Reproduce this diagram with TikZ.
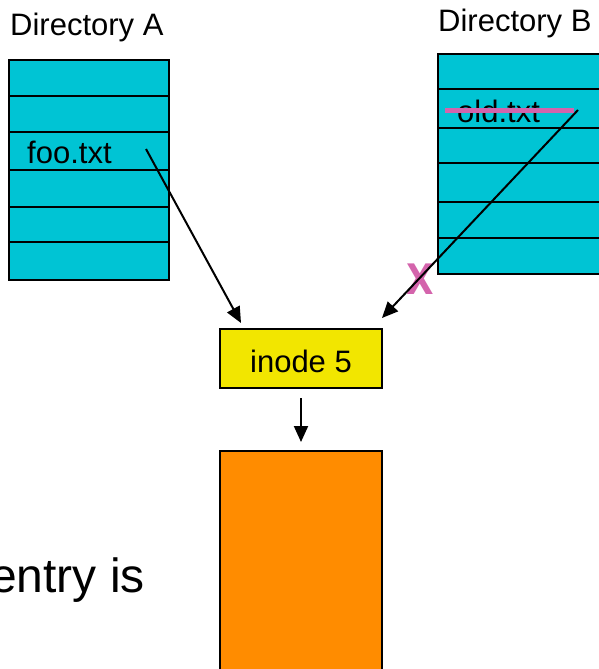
\documentclass[tikz,border=0pt]{standalone}
\usepackage{fontspec}
\setmainfont{Liberation Sans}
\newfontfamily\markfont{DejaVu Sans}[UprightFont={* Bold}]
\usetikzlibrary{arrows.meta}
\definecolor{dircyan}{RGB}{0,196,212}
\definecolor{inodeyellow}{RGB}{242,230,0}
\definecolor{blockorange}{RGB}{255,140,0}
\definecolor{strikepink}{RGB}{212,100,172}
\tikzset{
  dirbox/.style={draw=black, line width=2.4pt, fill=dircyan},
  rowline/.style={draw=black, line width=2.4pt},
  lbl/.style={inner sep=0pt, font=\fontsize{31}{37}\selectfont},
  link/.style={draw=black, line width=2pt, -{Triangle[length=16pt,width=14pt]}},
}
\begin{document}
\begin{tikzpicture}[x=1pt,y=-1pt]
\useasboundingbox (0,0) rectangle (599,669);

% Directory A: six entries
\path[dirbox] (9,60) rectangle (169,280);
\foreach \yy in {96,132,170,207,242} \draw[rowline] (9,\yy) -- (169,\yy);
\node[lbl, anchor=base west] (dirA) at (10,36) {Directory A};
\node[lbl, anchor=base west] (foo) at (27,163) {foo.txt};
\coordinate (fooStart) at (146,149);

% Directory B: six entries, the removed name struck through
\path[dirbox] (438,54) rectangle (606,274);
\foreach \yy in {89,128,163,202,238} \draw[rowline] (438,\yy) -- (606,\yy);
\node[lbl, anchor=base west] (dirB) at (438,32) {Directory B};
\node[lbl, anchor=base west] (old) at (457,122) {old.txt};
\draw[strikepink, line width=5pt] (445,110) -- (574,110);
\coordinate (oldStart) at (578,110);

% inode and its data block
\node[draw=black, line width=2.4pt, fill=inodeyellow, minimum width=162pt,
      minimum height=59pt, inner sep=0pt] (inode) at (301,358.5) {};
\node[lbl, anchor=base] (inodeTxt) at (301,372) {inode 5};
\node[draw=black, line width=2.4pt, fill=blockorange, minimum width=162pt,
      minimum height=224pt, inner sep=0pt, anchor=north] (block) at (301,450) {};

% removed link marker
\node[inner sep=0pt, text=strikepink, anchor=base, xscale=0.85,
      font=\markfont\fontsize{42}{50}\selectfont] (cross) at (420,294) {X};

% links
\coordinate (inodeNW) at (241,323);
\coordinate (inodeNE) at (382,318);
\draw[link] (fooStart) -- (inodeNW);
\draw[link] (oldStart) -- (inodeNE);
\draw[link] ([yshift=-9pt]inode.south) -- ([yshift=8pt]block.north);

% caption fragment
\node[inner sep=0pt, anchor=base east, font=\fontsize{48}{56}\selectfont] (cap) at (145,592) {entry is};
\end{tikzpicture}
\end{document}
